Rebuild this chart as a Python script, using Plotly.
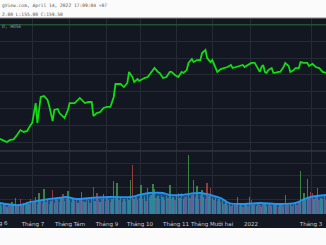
import plotly.graph_objects as go

# ---- data -------------------------------------------------------------
# price line (bar index, close)
price_idx = [0, 4, 6, 8, 10, 12, 14, 16, 18, 19, 21, 22, 23, 24, 26, 28, 29, 31, 32, 34,
             35, 38, 40, 41, 44, 45, 47, 50, 52, 54, 55, 57, 59, 61, 63, 65, 67, 68, 71, 73,
             75, 76, 78, 79, 81, 82, 85, 87, 89, 91, 93, 94, 96, 98, 100, 101, 103, 105, 107, 108,
             110, 111, 113, 114, 116, 118, 119, 121, 122, 124, 125, 127, 128, 130, 133, 134, 136, 137, 139, 141,
             143, 144, 146, 148, 150, 151, 153, 154, 155, 156, 157, 158, 160, 161, 162, 164, 165, 167, 168, 170,
             171, 173, 174, 176, 177, 179, 181, 182, 184, 186, 188, 190, 192]
price_close = [122.4, 120.6, 121.8, 122.1, 124.7, 127.6, 126.5, 127.1, 130.6, 131.8, 143.5, 131.8, 139.4, 147.1, 147.6, 145.3, 141.8, 132.9, 139.4, 140.0,
               137.6, 134.7, 139.4, 143.5, 143.5, 144.7, 146.5, 143.5, 144.1, 144.1, 135.9, 137.6, 138.2, 140.6, 141.2, 141.2, 147.1, 154.7, 154.7, 152.9,
               155.3, 161.8, 158.8, 155.9, 157.6, 156.5, 158.2, 158.8, 161.8, 164.1, 161.8, 161.2, 158.2, 158.8, 161.8, 161.8, 160.0, 158.8, 161.8, 161.2,
               162.9, 167.1, 169.4, 167.6, 168.8, 168.8, 172.9, 174.7, 170.0, 167.6, 168.8, 164.1, 161.8, 163.5, 164.1, 164.7, 165.9, 164.1, 164.7, 165.3,
               165.9, 164.7, 165.9, 167.1, 167.1, 165.3, 161.8, 164.7, 165.9, 161.8, 161.2, 162.9, 164.1, 161.2, 161.2, 161.8, 161.8, 164.7, 167.1, 165.3,
               161.8, 162.9, 164.1, 164.1, 167.6, 167.1, 167.1, 165.3, 166.5, 164.7, 164.1, 161.8, 161.2]

# volume per bar (millions) and direction
volume = [1.0, 0.8, 1.1, 0.9, 0.7, 1.0, 0.9, 1.2, 0.8, 1.6,
          0.9, 1.0, 1.5, 0.8, 1.1, 0.9, 1.2, 1.0, 1.5, 1.1,
          1.2, 1.7, 1.0, 2.1, 1.3, 1.1, 2.5, 1.2, 1.4, 1.0,
          1.3, 2.4, 1.1, 1.5, 1.4, 1.2, 1.6, 2.0, 1.3, 1.5,
          2.3, 1.4, 1.2, 1.6, 1.3, 1.5, 1.1, 1.4, 2.2, 1.3,
          1.2, 1.5, 1.4, 1.1, 1.6, 2.7, 1.3, 2.1, 1.4, 1.2,
          1.5, 2.0, 1.3, 1.6, 1.4, 1.2, 1.5, 3.3, 1.6, 3.1,
          1.4, 1.6, 1.2, 1.5, 1.3, 1.6, 1.4, 3.4, 4.9, 1.5,
          1.7, 1.4, 1.6, 2.9, 1.5, 1.8, 1.3, 2.6, 1.7, 1.9,
          3.0, 2.5, 1.6, 1.8, 1.5, 1.9, 1.7, 1.4, 1.8, 1.6,
          2.9, 1.5, 1.7, 1.4, 1.8, 2.1, 1.6, 2.1, 1.5, 1.7,
          1.8, 5.9, 1.6, 1.9, 3.4, 1.7, 2.8, 1.5, 1.9, 2.4,
          1.7, 1.5, 3.1, 1.8, 2.6, 1.6, 1.4, 1.7, 1.3, 1.5,
          1.2, 1.4, 1.0, 1.3, 0.9, 1.1, 0.8, 1.0, 0.9, 1.1,
          1.7, 0.8, 1.0, 0.7, 0.9, 1.0, 0.8, 1.7, 1.4, 0.9,
          1.0, 0.8, 1.1, 0.9, 0.7, 1.0, 1.1, 0.8, 0.9, 1.0,
          0.8, 1.1, 0.9, 1.0, 0.7, 0.9, 1.0, 0.8, 1.9, 1.0,
          0.9, 1.1, 0.8, 1.0, 1.2, 0.9, 1.3, 4.3, 1.5, 2.1,
          1.4, 3.5, 1.6, 2.2, 2.1, 1.5, 1.7, 2.6, 1.4, 1.6,
          1.5, 1.8, 1.4]
direction = ("udududduuu" "dudduduudu" "dududdudud" "ududududud" "udduddudud"
             "ududududdu" "dudduduudu" "dududduudu" "dududududu" "uududdudud"
             "ududududud" "duddududdu" "uddudududu" "dudududdud" "ududdududu"
             "dudduduudd" "ududduduud" "dudduddudu" "uudddududu" "udd")

# volume moving average (bar index, value)
ma_idx = [0, 12, 18, 25, 34, 39, 45, 53, 65, 77, 82, 88, 96, 100, 106, 118, 124, 130, 135, 144, 153, 165, 174, 178, 183, 192]
ma_val = [1.1, 0.9, 1.2, 1.4, 1.6, 1.7, 1.5, 1.6, 1.7, 1.7, 1.9, 2.1, 2.1, 1.9, 1.9, 2.1, 1.9, 1.6, 1.1, 1.0, 1.1, 1.0, 1.1, 1.4, 1.7, 1.9]

# month ticks (bar index of month start)
tick_idx = [19.4, 41.2, 63.0, 82.5, 103.7, 124.9, 147.8, 183.2]
tick_text = ["Tháng 7", "Tháng Tám", "Tháng 9", "Tháng 10", "Tháng 11", "Tháng Mười hai", "2022", "Tháng 3"]

price_grid = [120, 130, 140, 150, 160, 170, 180, 190]
vol_grid = [1.4, 2.7, 3.9, 5.1]

# ---- styles -----------------------------------------------------------
BG = "#131722"
GRID = "#262a35"
UP = "rgba(76,175,80,0.7)"
DOWN = "rgba(239,83,80,0.6)"
TICKFONT = dict(family="DejaVu Sans", size=5.5, color="#c8cad0")

bar_colors = [UP if d == "u" else DOWN for d in direction]
bar_x = list(range(len(volume)))

fig = go.Figure()

fig.add_trace(go.Bar(x=bar_x, y=volume, marker=dict(color=bar_colors, line=dict(width=0)),
                     width=0.85, xaxis="x", yaxis="y2", showlegend=False))
fig.add_trace(go.Scatter(x=ma_idx, y=ma_val, mode="lines", line=dict(color="#2196f3", width=1.8, shape="spline"),
                         fill="tozeroy", fillcolor="rgba(33,140,243,0.48)", xaxis="x", yaxis="y2",
                         showlegend=False))
fig.add_trace(go.Scatter(x=price_idx, y=price_close, mode="lines",
                         line=dict(color="#11dd11", width=1.8), xaxis="x2", yaxis="y", showlegend=False))

XR = [0, 192]
fig.update_layout(
    width=326, height=245,
    margin=dict(l=0, r=0, t=18, b=17),
    paper_bgcolor="#fbfbfb",
    plot_bgcolor="rgba(0,0,0,0)",
    bargap=0,
    xaxis=dict(domain=[0, 1], range=XR, anchor="y2", tickmode="array", tickvals=tick_idx,
               ticktext=tick_text, tickangle=0, showgrid=True, gridcolor=GRID, gridwidth=1, zeroline=False,
               ticks="", tickfont=TICKFONT, showline=False, ticklabelstandoff=6),
    xaxis2=dict(domain=[0, 1], range=XR, anchor="y", tickmode="array", tickvals=tick_idx,
                showticklabels=False, showgrid=True, gridcolor=GRID, gridwidth=1, zeroline=False),
    yaxis=dict(domain=[0.3667, 1.0], range=[115.29, 193.53], tickmode="array", tickvals=price_grid,
               showticklabels=False, showgrid=True, gridcolor=GRID, zeroline=False),
    yaxis2=dict(domain=[0.0667, 0.3619], range=[0, 6.2], tickmode="array", tickvals=vol_grid,
                showticklabels=False, showgrid=True, gridcolor=GRID, zeroline=False),
    shapes=[
        dict(type="rect", xref="paper", yref="paper", x0=0, x1=1, y0=0, y1=1,
             fillcolor=BG, line=dict(width=0), layer="below"),
        dict(type="line", xref="paper", yref="paper", x0=0, x1=1, y0=1, y1=1,
             line=dict(color="#8a8a8a", width=1)),
        dict(type="line", xref="paper", yref="paper", x0=0, x1=1, y0=0.3667, y1=0.3667,
             line=dict(color="#434651", width=1)),
        dict(type="line", xref="paper", yref="y", x0=0, x1=1, y0=189.5, y1=189.5,
             line=dict(color="#1e6b2a", width=1)),
    ],
    annotations=[
        dict(text="gView.com, April 14, 2022 17:09:04 +07", xref="paper", yref="paper",
             x=0, y=1, yshift=13, xanchor="left", yanchor="middle", showarrow=False,
             font=dict(family="DejaVu Sans Mono", size=4.6, color="#555555")),
        dict(text="2.00 L:155.00 C:159.50", xref="paper", yref="paper",
             x=0, y=1, yshift=4, xanchor="left", yanchor="middle", showarrow=False,
             font=dict(family="DejaVu Sans Mono", size=4.6, color="#555555")),
        dict(text="D, HOSE", xref="paper", yref="paper",
             x=0, y=1, yshift=-8, xanchor="left", yanchor="middle", showarrow=False,
             font=dict(family="DejaVu Sans Mono", size=4.6, color="#9598a1")),
        dict(text="Tháng 6", xref="paper", yref="paper",
             x=-0.012, y=0.0667, yshift=-10, xanchor="center", yanchor="middle", showarrow=False,
             font=TICKFONT),
    ],
)

fig.write_html("out.html")
